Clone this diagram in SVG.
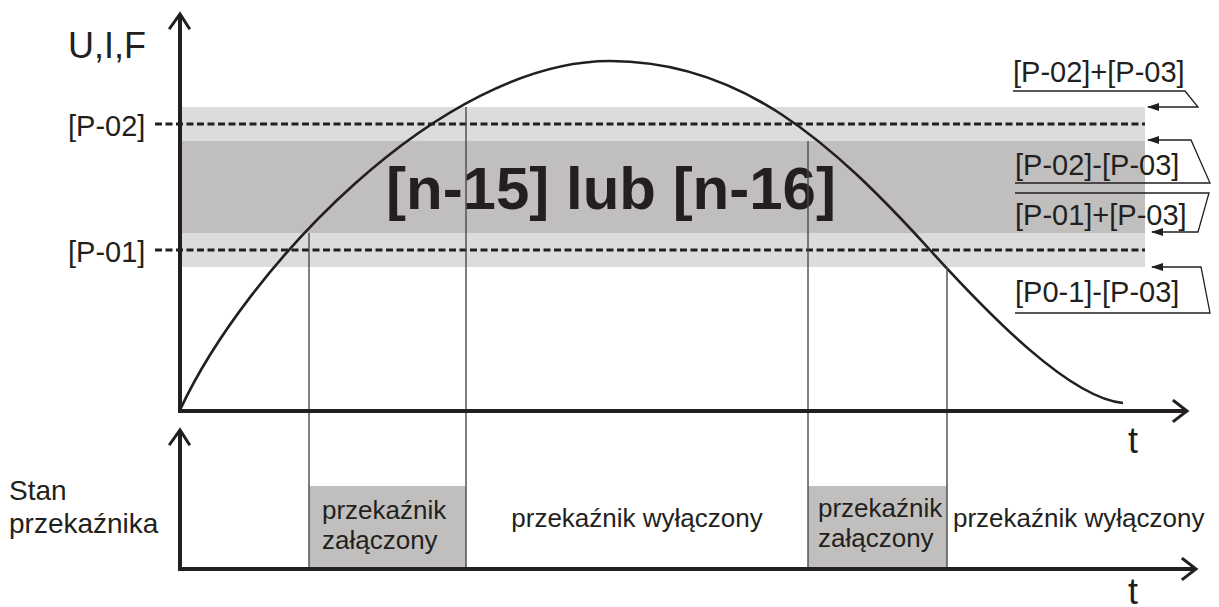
<svg xmlns="http://www.w3.org/2000/svg" width="1219" height="607" viewBox="0 0 1219 607">
<defs>
<style>
.t{font-family:"Liberation Sans",Arial,sans-serif;fill:#231f20}
.ax{stroke:#231f20;stroke-width:4;fill:none}
.ah{stroke:#231f20;stroke-width:3;fill:none;stroke-linecap:square}
.dash{stroke:#231f20;stroke-width:3.2;stroke-dasharray:7 3.5;fill:none}
.vl{stroke:#4a4a4a;stroke-width:1.4;fill:none}
.ld{stroke:#231f20;stroke-width:1.3;fill:none}
.light{fill:#dcdcdb}
.dark{fill:#c0bfbd}
</style>
<marker id="arr" viewBox="0 0 12 8" refX="11" refY="4" markerWidth="12" markerHeight="8" markerUnits="userSpaceOnUse" orient="auto">
<path d="M12,4 L0,0 L0,8 Z" fill="#231f20"/>
</marker>
</defs>
<rect width="1219" height="607" fill="#ffffff"/>

<g id="bands">
<rect class="light" x="180" y="107" width="965" height="160"/>
<rect class="dark" x="180" y="141" width="965" height="92"/>
</g>

<g id="relay-boxes">
<rect class="dark" x="309" y="486" width="157" height="83"/>
<rect class="dark" x="808" y="486" width="139" height="83"/>
</g>

<g id="band-label">
<text class="t" x="386" y="209" font-size="60" font-weight="bold">[n-15] lub [n-16]</text>
</g>

<g id="thresholds">
<line class="dash" x1="155" y1="124" x2="1145" y2="124"/>
<line class="dash" x1="155" y1="250" x2="1145" y2="250"/>
<text class="t" x="68" y="136" font-size="29">[P-02]</text>
<text class="t" x="68" y="262" font-size="29">[P-01]</text>
</g>

<g id="curve">
<path d="M180,410 C245,270 440,61 610,61 C740,61 830,140 930,250 C990,316 1070,398 1123,403" stroke="#231f20" stroke-width="2.6" fill="none"/>
</g>

<g id="connectors">
<line class="vl" x1="309" y1="233" x2="309" y2="569"/>
<line class="vl" x1="466" y1="107" x2="466" y2="569"/>
<line class="vl" x1="808" y1="141" x2="808" y2="569"/>
<line class="vl" x1="947" y1="267" x2="947" y2="569"/>
<polyline class="ld" points="1013,91 1185,91 1198,107 1148,107" marker-end="url(#arr)"/>
<polyline class="ld" points="1015,183 1210,183 1191,140 1148,140" marker-end="url(#arr)"/>
<polyline class="ld" points="1015,193 1209,193 1198,232 1152,232" marker-end="url(#arr)"/>
<polyline class="ld" points="1015,313 1210,313 1201,267 1152,267" marker-end="url(#arr)"/>
</g>

<g id="axes">
<line class="ax" x1="180" y1="411" x2="180" y2="15"/>
<polyline class="ah" points="170,28 180,14 189,28"/>
<line class="ax" x1="178" y1="411" x2="1186" y2="411"/>
<polyline class="ah" points="1174,401 1187,411 1174,421"/>
<line class="ax" x1="180" y1="571" x2="180" y2="431"/>
<polyline class="ah" points="170,444 180,430 189,444"/>
<line class="ax" x1="178" y1="569" x2="1195" y2="569"/>
<polyline class="ah" points="1183,559 1196,569 1183,579"/>
</g>

<g id="axis-labels">
<text class="t" x="68" y="58" font-size="36">U,I,F</text>
<text class="t" x="1128" y="453" font-size="36">t</text>
<text class="t" x="1128" y="604" font-size="36">t</text>
<text class="t" x="9" y="500" font-size="28">Stan</text>
<text class="t" x="9" y="533" font-size="28">przekaźnika</text>
</g>

<g id="right-labels">
<text class="t" x="1013" y="82" font-size="29">[P-02]+[P-03]</text>
<text class="t" x="1015" y="175" font-size="29">[P-02]-[P-03]</text>
<text class="t" x="1015" y="225" font-size="29">[P-01]+[P-03]</text>
<text class="t" x="1015" y="302" font-size="29">[P0-1]-[P-03]</text>
</g>

<g id="state-on-1">
<text class="t" x="322" y="519" font-size="26">przekaźnik</text>
<text class="t" x="322" y="549" font-size="26">załączony</text>
</g>
<g id="state-off-1">
<text class="t" x="637" y="527" font-size="26" text-anchor="middle">przekaźnik wyłączony</text>
</g>
<g id="state-on-2">
<text class="t" x="818" y="517" font-size="26">przekaźnik</text>
<text class="t" x="818" y="547" font-size="26">załączony</text>
</g>
<g id="state-off-2">
<text class="t" x="953" y="527" font-size="26">przekaźnik wyłączony</text>
</g>
</svg>
